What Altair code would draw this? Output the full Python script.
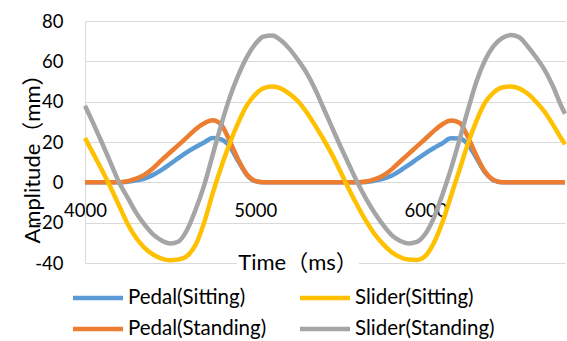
import altair as alt
import pandas as pd

# ---------------- data ----------------
time_ms = [4000, 4050, 4100, 4150, 4200, 4250, 4300, 4350, 4400, 4450,
           4500, 4550, 4600, 4650, 4700, 4750, 4800, 4850, 4900, 4950,
           5000, 5050, 5100, 5150, 5200, 5250, 5300, 5350, 5400, 5450,
           5500, 5550, 5600, 5650, 5700, 5750, 5800, 5850, 5900, 5950,
           6000, 6050, 6100, 6150, 6200, 6250, 6300, 6350, 6400, 6450,
           6500, 6550, 6600, 6650, 6700, 6750, 6800, 6820]

pedal_sitting = [0, 0, 0, 0, 0, 0.3, 1.0, 1.9, 3.7, 6.2,
                 9.1, 12.1, 15.0, 17.5, 19.8, 22.0, 21.3, 17.8, 10.5, 3.8,
                 0.6, 0, 0, 0, 0, 0, 0, 0, 0, 0,
                 0, 0, 0, 0.2, 0.8, 1.7, 3.3, 5.7, 8.5, 11.5,
                 14.4, 17.0, 19.4, 21.8, 21.7, 18.8, 12.0, 5.0, 1.0, 0,
                 0, 0, 0, 0, 0, 0, 0, 0]

pedal_standing = [0, 0, 0, 0, 0, 0.6, 1.8, 3.8, 7.0, 11.0,
                  14.8, 18.6, 22.4, 26.3, 29.3, 30.8, 28.6, 20.5, 11.3, 4.0,
                  0.7, 0, 0, 0, 0, 0, 0, 0, 0, 0,
                  0, 0, 0, 0.4, 1.5, 3.3, 6.3, 10.2, 14.0, 17.8,
                  21.6, 25.5, 28.8, 30.6, 29.5, 22.5, 13.2, 5.3, 1.2, 0,
                  0, 0, 0, 0, 0, 0, 0, 0]

slider_sitting = [22, 14, 6, -2.4, -11.5, -20.5, -27.5, -32.5, -35.8, -37.8,
                  -38.6, -38.3, -36.5, -31, -20, -5.5, 7.5, 19.3, 29.5, 38,
                  43.5, 46.7, 47.5, 46.6, 44, 40.3, 35, 28.5, 21.5, 14,
                  5.5, -3.3, -11.5, -19, -25.5, -30.5, -34.5, -37, -38.3, -38.5,
                  -36.5, -30, -19.8, -6.8, 6.2, 19.2, 30.5, 39.5, 44.5, 47,
                  47.5, 46.6, 44, 40, 35, 28.5, 21.5, 18.8]

slider_standing = [38, 29, 19.5, 9.8, 0, -7.5, -15, -21, -25.8, -28.8,
                   -30.3, -29.3, -23.5, -13.5, -1.5, 13.5, 28.5, 42, 53, 62,
                   68.5, 72.3, 72.8, 70.5, 66.3, 60.8, 54.5, 46.5, 37, 27.5,
                   18, 9, 0, -8, -15, -21, -26, -29, -30.3, -29.5,
                   -25.5, -17.5, -6.1, 6.7, 21, 36, 50, 60.5, 67.5, 71.5,
                   73, 72, 67.5, 62, 55.8, 47.5, 37.5, 34]

series_names = ["Pedal(Sitting)", "Slider(Sitting)", "Pedal(Standing)", "Slider(Standing)"]
series_colors = ["#5B9BD5", "#FFC000", "#ED7D31", "#A5A5A5"]
draw_order = ["Pedal(Sitting)", "Pedal(Standing)", "Slider(Sitting)", "Slider(Standing)"]
x_ticks = [4000, 5000, 6000]
y_ticks = [-40, -20, 0, 20, 40, 60, 80]
x_title = "Time（ms）"
y_title = "Amplitude（mm）"

values_by_name = {
    "Pedal(Sitting)": pedal_sitting,
    "Slider(Sitting)": slider_sitting,
    "Pedal(Standing)": pedal_standing,
    "Slider(Standing)": slider_standing,
}

rows = []
for name in series_names:
    for t, v in zip(time_ms, values_by_name[name]):
        rows.append({"time": t, "amp": v, "series": name})
df = pd.DataFrame(rows)

# ---------------- layout ----------------
W, H = 480, 242
FONT = "Lato, 'Noto Sans CJK JP', sans-serif"
GRID = "#D9D9D9"
color_of = dict(zip(series_names, series_colors))

x_scale = alt.Scale(domain=[4000, 6820], nice=False, zero=False)
y_scale = alt.Scale(domain=[-40, 80], nice=False, zero=False)
color_scale = alt.Scale(domain=series_names, range=series_colors)

zero_from_bottom = H * (0 - (-40)) / 120.0

x_enc = alt.X("time:Q", scale=x_scale,
              axis=alt.Axis(values=x_ticks, grid=False, domain=False, ticks=False,
                            tickSize=0, labelPadding=28, labelBaseline="middle",
                            labelFlush=False, labelFont=FONT, labelFontSize=18.5,
                            labelColor="black", labelExpr="'' + datum.value",
                            offset=-zero_from_bottom, title=None))
y_enc = alt.Y("amp:Q", scale=y_scale,
              axis=alt.Axis(values=y_ticks, grid=True, gridColor=GRID, gridWidth=1,
                            domain=True, domainColor=GRID, domainWidth=1,
                            ticks=False, tickSize=0, labelPadding=22,
                            labelFont=FONT, labelFontSize=18.5, labelColor="black",
                            labelExpr="'' + datum.value",
                            title=y_title, titleFont=FONT, titleFontSize=22,
                            titleFontWeight="normal", titleColor="black",
                            titleAngle=270, titleAlign="center", titleBaseline="middle",
                            titleX=-53, titleY=132))

layers = []
for name in draw_order:
    layers.append(
        alt.Chart(df[df["series"] == name]).mark_line(strokeWidth=4.5, interpolate="monotone")
        .encode(x=x_enc, y=y_enc,
                color=alt.Color("series:N", scale=color_scale, legend=None))
    )

# x-axis title (covers the bottom gridline, as in the reference)
title_df = pd.DataFrame({"label": [x_title]})
layers.append(
    alt.Chart(title_df).mark_rect(color="white")
    .encode(x=alt.value(152), x2=alt.value(274), y=alt.value(236), y2=alt.value(251))
)
layers.append(
    alt.Chart(title_df).mark_text(font=FONT, fontSize=22, color="black",
                                  align="center", baseline="middle")
    .encode(x=alt.value(213), y=alt.value(242), text="label:N")
)

# legend: two columns, two rows
LEG_X0, LEG_COL, LEG_Y0, LEG_ROW = -12, 227, 277, 31
for i, name in enumerate(series_names):
    col, row = i % 2, i // 2
    x0 = LEG_X0 + col * LEG_COL
    yy = LEG_Y0 + row * LEG_ROW
    item = pd.DataFrame({"label": [name]})
    layers.append(
        alt.Chart(item).mark_rule(strokeWidth=4.5, color=color_of[name])
        .encode(x=alt.value(x0), x2=alt.value(x0 + 50), y=alt.value(yy))
    )
    layers.append(
        alt.Chart(item).mark_text(font=FONT, fontSize=20.5, color="black",
                                  align="left", baseline="middle")
        .encode(x=alt.value(x0 + 55), y=alt.value(yy), text="label:N")
    )

chart = alt.layer(*layers).properties(
    width=W, height=H,
    padding={"left": 85, "top": 21, "right": 2, "bottom": 78},
    autosize=alt.AutoSizeParams(type="none"),
    background="white",
).configure_view(stroke=None)

chart.save("out.html", embed_options={"renderer": "svg", "actions": False})
